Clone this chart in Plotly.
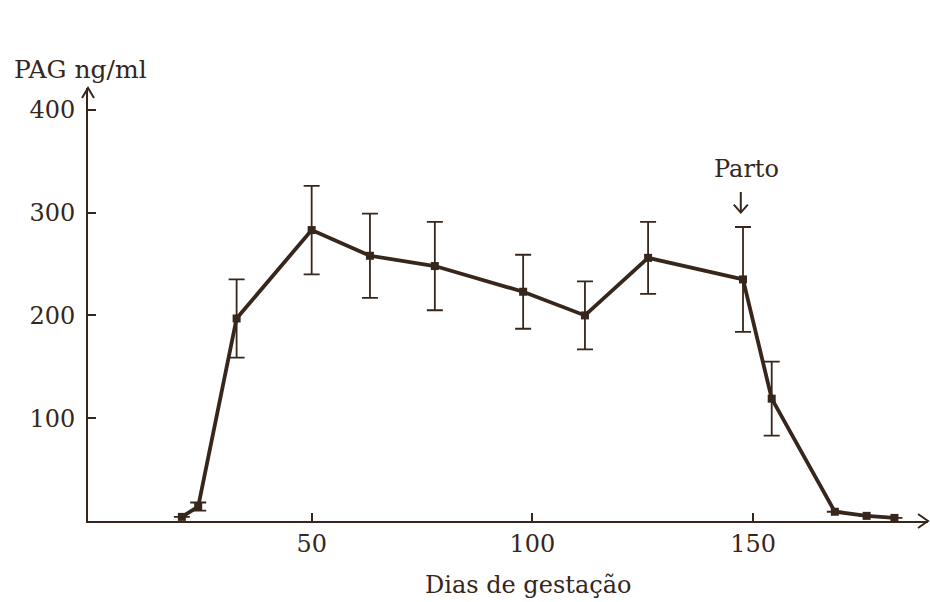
import plotly.graph_objects as go

# Data
dias = [20.6, 24.3, 33.0, 50.0, 63.2, 77.9, 97.9, 111.9, 126.2, 147.7, 154.2, 168.5, 175.7, 182.0]
pag = [4, 14, 197, 283, 258, 248, 223, 200, 256, 235, 119, 9, 5, 3]
erro = [0, 4, 38, 43, 41, 43, 36, 33, 35, 51, 36, 0, 0, 0]

x_ticks = [50, 100, 150]
y_ticks = [100, 200, 300, 400]

INK = "#36261b"
FONT = "DejaVu Serif"

fig = go.Figure()
fig.add_trace(go.Scatter(
    x=dias, y=pag, mode="lines+markers",
    line=dict(color=INK, width=3.8),
    marker=dict(symbol="square", size=8, color=INK),
    error_y=dict(type="data", array=erro, visible=True, color=INK,
                 thickness=1.8, width=8),
    cliponaxis=False, showlegend=False,
))

x_range = [-0.66, 189.6]
y_range = [0, 421.2]

fig.update_layout(
    width=930, height=602,
    margin=dict(l=88, r=2, t=88, b=81),
    paper_bgcolor="white", plot_bgcolor="white",
    font=dict(family=FONT, color=INK, size=24),
    xaxis=dict(range=x_range, tickvals=x_ticks, ticks="inside", ticklen=8,
               tickwidth=2, tickcolor=INK, showline=True, linecolor=INK,
               linewidth=2, showgrid=False, zeroline=False,
               tickfont=dict(size=24, family=FONT, color=INK)),
    yaxis=dict(range=y_range, tickvals=y_ticks, ticks="inside", ticklen=8,
               tickwidth=2, tickcolor=INK, showline=True, linecolor=INK,
               linewidth=2, showgrid=False, zeroline=False,
               ticklabelstandoff=6,
               tickfont=dict(size=24, family=FONT, color=INK)),
)

# axis arrowheads (pixel-sized chevrons anchored at the axis ends, paper refs so not clipped)
fig.add_shape(type="path", xref="paper", yref="paper", xsizemode="pixel", ysizemode="pixel",
              xanchor=1, yanchor=0,
              path="M -10 7 L 0 0 L -10 -7", line=dict(color=INK, width=2))
fig.add_shape(type="path", xref="paper", yref="paper", xsizemode="pixel", ysizemode="pixel",
              xanchor=0, yanchor=1,
              path="M -6 -10 L 0 0 L 6 -10", line=dict(color=INK, width=2))

# labels
fig.add_annotation(text="PAG ng/ml", xref="paper", yref="paper", x=-0.09, y=1.0,
                   xanchor="left", yanchor="bottom", yshift=2, showarrow=False,
                   font=dict(size=25, family=FONT, color=INK))
fig.add_annotation(text="Dias de gestação", xref="x", yref="paper", x=99, y=0,
                   xanchor="center", yanchor="top", yshift=-48, showarrow=False,
                   font=dict(size=24, family=FONT, color=INK))
fig.add_annotation(text="Parto", xref="x", yref="y", x=148.5, y=342,
                   xanchor="center", yanchor="middle", showarrow=False,
                   font=dict(size=24, family=FONT, color=INK))
fig.add_annotation(text="", xref="x", yref="y", x=147.2, y=300,
                   ax=0, ay=-22, showarrow=True, arrowhead=0, arrowwidth=2,
                   arrowcolor=INK)
fig.add_shape(type="path", xref="x", yref="y", xsizemode="pixel", ysizemode="pixel",
              xanchor=147.2, yanchor=300,
              path="M -7 8 L 0 0 L 7 8", line=dict(color=INK, width=2))

fig.write_html("out.html")
